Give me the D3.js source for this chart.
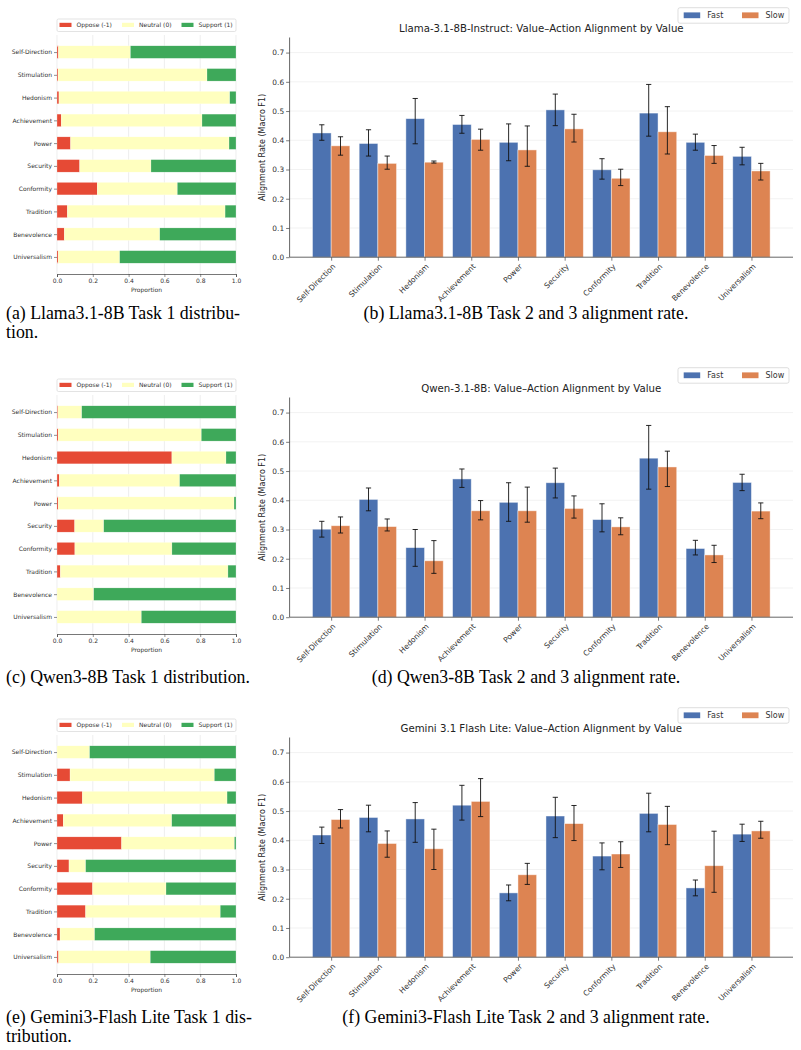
<!DOCTYPE html>
<html>
<head>
<meta charset="utf-8">
<script src="https://cdn.jsdelivr.net/npm/d3@7"></script>
<style>
  body { margin: 0; background: #fff; }
  svg { display: block; }
  .tick text { fill: #333; }
</style>
</head>
<body>
<svg id="fig" width="801" height="1050"></svg>
<script>
// categories shared by every panel
var categories = ['Self-Direction', 'Stimulation', 'Hedonism', 'Achievement', 'Power',
  'Security', 'Conformity', 'Tradition', 'Benevolence', 'Universalism'];

// Task 1 distributions (proportions)
var llamaOppose  = [0.008, 0.006, 0.011, 0.024, 0.076, 0.127, 0.225, 0.058, 0.041, 0.007];
var llamaNeutral = [0.402, 0.832, 0.954, 0.786, 0.885, 0.398, 0.447, 0.881, 0.533, 0.343];
var llamaSupport = [0.590, 0.162, 0.035, 0.190, 0.039, 0.475, 0.328, 0.061, 0.426, 0.650];

var qwenOppose  = [0.005, 0.007, 0.642, 0.013, 0.007, 0.099, 0.100, 0.019, 0.000, 0.000];
var qwenNeutral = [0.133, 0.799, 0.302, 0.672, 0.982, 0.162, 0.542, 0.936, 0.205, 0.471];
var qwenSupport = [0.862, 0.194, 0.056, 0.315, 0.011, 0.739, 0.358, 0.045, 0.795, 0.529];

var geminiOppose  = [0.000, 0.073, 0.142, 0.035, 0.361, 0.067, 0.199, 0.160, 0.017, 0.009];
var geminiNeutral = [0.182, 0.806, 0.808, 0.606, 0.630, 0.093, 0.410, 0.752, 0.193, 0.512];
var geminiSupport = [0.818, 0.121, 0.050, 0.359, 0.009, 0.840, 0.391, 0.088, 0.790, 0.479];

// Task 2/3 alignment rate (macro F1), with error bar ends
var llamaFast   = [0.425, 0.389, 0.474, 0.454, 0.393, 0.504, 0.299, 0.493, 0.393, 0.345];
var llamaFastLo = [0.400, 0.346, 0.388, 0.424, 0.330, 0.450, 0.267, 0.414, 0.366, 0.316];
var llamaFastHi = [0.453, 0.436, 0.543, 0.485, 0.456, 0.558, 0.337, 0.591, 0.421, 0.376];
var llamaSlow   = [0.381, 0.321, 0.325, 0.403, 0.367, 0.439, 0.270, 0.429, 0.348, 0.295];
var llamaSlowLo = [0.349, 0.301, 0.322, 0.366, 0.311, 0.394, 0.245, 0.353, 0.321, 0.264];
var llamaSlowHi = [0.412, 0.346, 0.329, 0.438, 0.449, 0.489, 0.301, 0.515, 0.382, 0.321];

var qwenFast   = [0.301, 0.403, 0.238, 0.473, 0.393, 0.460, 0.334, 0.544, 0.235, 0.461];
var qwenFastLo = [0.274, 0.364, 0.174, 0.444, 0.328, 0.408, 0.292, 0.438, 0.213, 0.433];
var qwenFastHi = [0.328, 0.442, 0.300, 0.507, 0.460, 0.510, 0.388, 0.656, 0.263, 0.489];
var qwenSlow   = [0.313, 0.310, 0.193, 0.364, 0.364, 0.372, 0.309, 0.514, 0.213, 0.363];
var qwenSlowLo = [0.288, 0.295, 0.150, 0.333, 0.325, 0.339, 0.282, 0.447, 0.187, 0.337];
var qwenSlowHi = [0.343, 0.336, 0.262, 0.399, 0.445, 0.415, 0.340, 0.568, 0.246, 0.391];

var geminiFast   = [0.418, 0.478, 0.473, 0.520, 0.220, 0.483, 0.346, 0.492, 0.237, 0.421];
var geminiFastLo = [0.389, 0.429, 0.393, 0.469, 0.193, 0.409, 0.299, 0.429, 0.210, 0.396];
var geminiFastHi = [0.445, 0.520, 0.529, 0.588, 0.247, 0.547, 0.391, 0.561, 0.264, 0.455];
var geminiSlow   = [0.471, 0.389, 0.371, 0.533, 0.282, 0.457, 0.353, 0.454, 0.313, 0.432];
var geminiSlowLo = [0.442, 0.342, 0.300, 0.481, 0.249, 0.399, 0.307, 0.385, 0.222, 0.407];
var geminiSlowHi = [0.505, 0.432, 0.438, 0.611, 0.321, 0.519, 0.395, 0.516, 0.431, 0.465];

var distTicks = [0, 0.2, 0.4, 0.6, 0.8, 1.0];
var rateTicks = [0, 0.1, 0.2, 0.3, 0.4, 0.5, 0.6, 0.7];
var stanceKeys = ['Oppose (-1)', 'Neutral (0)', 'Support (1)'];
var stanceColors = ['#e64a35', '#ffffbf', '#3ea95a'];
var speedKeys = ['Fast', 'Slow'];
var speedColors = ['#4c72b0', '#dd8452'];

var titles = ['Llama-3.1-8B-Instruct: Value\u2013Action Alignment by Value',
  'Qwen-3.1-8B: Value\u2013Action Alignment by Value',
  'Gemini 3.1 Flash Lite: Value\u2013Action Alignment by Value'];

var svg = d3.select('#fig');
svg.append('rect').attr('width', 801).attr('height', 1050).attr('fill', '#fff');
var FONT = 'DejaVu Sans, sans-serif';

function drawDist(top, oppose, neutral, support) {
  var g = svg.append('g').attr('transform', 'translate(0,' + top + ')');
  var x = d3.scaleLinear().domain([0, 1]).range([57, 236]);
  var y = d3.scaleLinear().domain([-0.75, 9.75]).range([35, 274]);
  var h = 0.55 * (y(1) - y(0));

  // grid
  g.selectAll('line.grid').data(distTicks).enter().append('line')
    .attr('x1', function(d) { return x(d); }).attr('x2', function(d) { return x(d); })
    .attr('y1', 35).attr('y2', 274).attr('stroke', '#e6e6e6').attr('stroke-width', 0.7);

  var rows = categories.map(function(c, i) {
    return {cat: c, 'Oppose (-1)': oppose[i], 'Neutral (0)': neutral[i], 'Support (1)': support[i]};
  });
  var stacked = d3.stack().keys(stanceKeys)(rows);
  g.selectAll('g.layer').data(stacked).enter().append('g')
    .attr('fill', function(d, i) { return stanceColors[i]; })
    .selectAll('rect').data(function(d) { return d; }).enter().append('rect')
    .attr('x', function(d) { return x(d[0]); })
    .attr('width', function(d) { return Math.max(0, x(d[1]) - x(d[0])); })
    .attr('y', function(d, i) { return y(i) - h / 2; })
    .attr('height', h)
    .attr('stroke', '#fff').attr('stroke-width', 0.4).attr('stroke-opacity', 0.6);

  // y axis (labels + ticks, no spine)
  var yAx = g.append('g').attr('transform', 'translate(57,0)')
    .call(d3.axisLeft(y).tickValues(d3.range(10)).tickSize(3).tickPadding(2)
      .tickFormat(function(i) { return categories[i]; }));
  yAx.select('.domain').remove();
  yAx.selectAll('line').attr('stroke', '#444').attr('stroke-width', 0.6);
  yAx.selectAll('text').attr('font-family', FONT).attr('font-size', 6);

  var xAx = g.append('g').attr('transform', 'translate(0,274)')
    .call(d3.axisBottom(x).tickValues(distTicks).tickSize(3).tickPadding(1.5)
      .tickFormat(d3.format('.1f')));
  xAx.select('.domain').attr('stroke', '#555').attr('stroke-width', 0.8);
  xAx.selectAll('line').attr('stroke', '#444').attr('stroke-width', 0.6);
  xAx.selectAll('text').attr('font-family', FONT).attr('font-size', 6);

  g.append('text').attr('x', 146.5).attr('y', 292).attr('text-anchor', 'middle')
    .attr('font-family', FONT).attr('font-size', 6).attr('fill', '#333').text('Proportion');

  // legend
  var lg = g.append('g');
  lg.append('rect').attr('x', 57).attr('y', 19).attr('width', 179).attr('height', 12.5)
    .attr('rx', 1.5).attr('fill', '#fff').attr('stroke', '#d0d0d0').attr('stroke-width', 0.6);
  var lx = [59.5, 122, 181.5];
  stanceKeys.forEach(function(k, i) {
    lg.append('rect').attr('x', lx[i]).attr('y', 22.8).attr('width', 12).attr('height', 4.2)
      .attr('fill', stanceColors[i]);
    lg.append('text').attr('x', lx[i] + 17).attr('y', 25.2).attr('dy', '0.35em')
      .attr('font-family', FONT).attr('font-size', 6).attr('fill', '#333').text(k);
  });
}

function drawAlign(top, title, fast, fastLo, fastHi, slow, slowLo, slowHi) {
  var g = svg.append('g').attr('transform', 'translate(0,' + top + ')');
  var x = d3.scaleLinear().domain([-0.89, 9.89]).range([289.6, 793]);
  var y = d3.scaleLinear().domain([0, 0.7516]).range([257.2, 37.5]);
  var bw = 0.4;

  g.selectAll('line.grid').data(rateTicks.slice(1)).enter().append('line')
    .attr('x1', 289.6).attr('x2', 793)
    .attr('y1', function(d) { return y(d); }).attr('y2', function(d) { return y(d); })
    .attr('stroke', '#ececec').attr('stroke-width', 0.7);

  var series = [
    {vals: fast, lo: fastLo, hi: fastHi, off: -bw / 2},
    {vals: slow, lo: slowLo, hi: slowHi, off: bw / 2}
  ];
  series.forEach(function(s, k) {
    var sg = g.append('g');
    sg.selectAll('rect').data(s.vals).enter().append('rect')
      .attr('x', function(d, i) { return x(i + s.off - bw / 2); })
      .attr('width', x(bw) - x(0))
      .attr('y', function(d) { return y(d); })
      .attr('height', function(d) { return y(0) - y(d); })
      .attr('fill', speedColors[k])
      .attr('stroke', '#fff').attr('stroke-opacity', 0.55).attr('stroke-width', 0.8);
    var eg = sg.selectAll('g.err').data(s.vals).enter().append('g')
      .attr('stroke', '#111').attr('stroke-width', 0.9);
    eg.append('line')
      .attr('x1', function(d, i) { return x(i + s.off); }).attr('x2', function(d, i) { return x(i + s.off); })
      .attr('y1', function(d, i) { return y(s.lo[i]); }).attr('y2', function(d, i) { return y(s.hi[i]); });
    [s.lo, s.hi].forEach(function(arr) {
      eg.append('line')
        .attr('x1', function(d, i) { return x(i + s.off) - 2.6; })
        .attr('x2', function(d, i) { return x(i + s.off) + 2.6; })
        .attr('y1', function(d, i) { return y(arr[i]); }).attr('y2', function(d, i) { return y(arr[i]); });
    });
  });

  var yAx = g.append('g').attr('transform', 'translate(289.6,0)')
    .call(d3.axisLeft(y).tickValues(rateTicks).tickSize(3.5).tickPadding(2)
      .tickFormat(d3.format('.1f')));
  yAx.select('.domain').attr('d', 'M0,' + y(0) + 'V37.5').attr('stroke', '#555').attr('stroke-width', 0.9);
  yAx.selectAll('line').attr('stroke', '#444').attr('stroke-width', 0.7);
  yAx.selectAll('text').attr('font-family', FONT).attr('font-size', 7.4);

  var xAx = g.append('g').attr('transform', 'translate(0,' + y(0) + ')')
    .call(d3.axisBottom(x).tickValues(d3.range(10)).tickSize(3.5).tickFormat(function() { return ''; }));
  xAx.select('.domain').attr('d', 'M289.6,0H793').attr('stroke', '#555').attr('stroke-width', 0.9);
  xAx.selectAll('line').attr('stroke', '#444').attr('stroke-width', 0.7);
  xAx.selectAll('.tick').append('text')
    .attr('transform', 'translate(0.5,6) rotate(-45)')
    .attr('text-anchor', 'end').attr('dy', '0.7em')
    .attr('font-family', FONT).attr('font-size', 7.6).attr('fill', '#333')
    .text(function(i) { return categories[i]; });

  g.append('text').attr('transform', 'translate(264.5,147.4) rotate(-90)')
    .attr('text-anchor', 'middle').attr('font-family', FONT).attr('font-size', 8)
    .attr('fill', '#222').text('Alignment Rate (Macro F1)');

  g.append('text').attr('x', 541.3).attr('y', 32.3).attr('text-anchor', 'middle')
    .attr('font-family', FONT).attr('font-size', 10.2).attr('fill', '#222').text(title);

  var lg = g.append('g');
  lg.append('rect').attr('x', 678).attr('y', 7.7).attr('width', 111).attr('height', 15.5)
    .attr('rx', 2).attr('fill', '#fff').attr('stroke', '#d0d0d0').attr('stroke-width', 0.7);
  var lx = [683.7, 742];
  speedKeys.forEach(function(k, i) {
    lg.append('rect').attr('x', lx[i]).attr('y', 12.4).attr('width', 16.5).attr('height', 5.8)
      .attr('fill', speedColors[i]);
    lg.append('text').attr('x', lx[i] + 23.5).attr('y', 15.4).attr('dy', '0.35em')
      .attr('font-family', FONT).attr('font-size', 8).attr('fill', '#333').text(k);
  });
}

drawDist(0, llamaOppose, llamaNeutral, llamaSupport);
drawDist(360, qwenOppose, qwenNeutral, qwenSupport);
drawDist(700, geminiOppose, geminiNeutral, geminiSupport);
drawAlign(0, titles[0], llamaFast, llamaFastLo, llamaFastHi, llamaSlow, llamaSlowLo, llamaSlowHi);
drawAlign(360, titles[1], qwenFast, qwenFastLo, qwenFastHi, qwenSlow, qwenSlowLo, qwenSlowHi);
drawAlign(700, titles[2], geminiFast, geminiFastLo, geminiFastHi, geminiSlow, geminiSlowLo, geminiSlowHi);

// captions
var SERIF = 'Liberation Serif, Times New Roman, serif';
var captions = [
  {x: 6, y: 319, anchor: 'start', lines: ['(a) Llama3.1-8B Task 1 distribu-', 'tion.']},
  {x: 526, y: 319, anchor: 'middle', lines: ['(b) Llama3.1-8B Task 2 and 3 alignment rate.']},
  {x: 6, y: 683, anchor: 'start', lines: ['(c) Qwen3-8B Task 1 distribution.']},
  {x: 526, y: 683, anchor: 'middle', lines: ['(d) Qwen3-8B Task 2 and 3 alignment rate.']},
  {x: 6, y: 1023, anchor: 'start', lines: ['(e) Gemini3-Flash Lite Task 1 dis-', 'tribution.']},
  {x: 526, y: 1023, anchor: 'middle', lines: ['(f) Gemini3-Flash Lite Task 2 and 3 alignment rate.']}
];
captions.forEach(function(c) {
  var t = svg.append('text').attr('font-family', SERIF).attr('font-size', 17.8)
    .attr('fill', '#000').attr('text-anchor', c.anchor);
  c.lines.forEach(function(l, i) {
    t.append('tspan').attr('x', c.x).attr('y', c.y + i * 18.5).text(l);
  });
});
</script>
</body>
</html>
